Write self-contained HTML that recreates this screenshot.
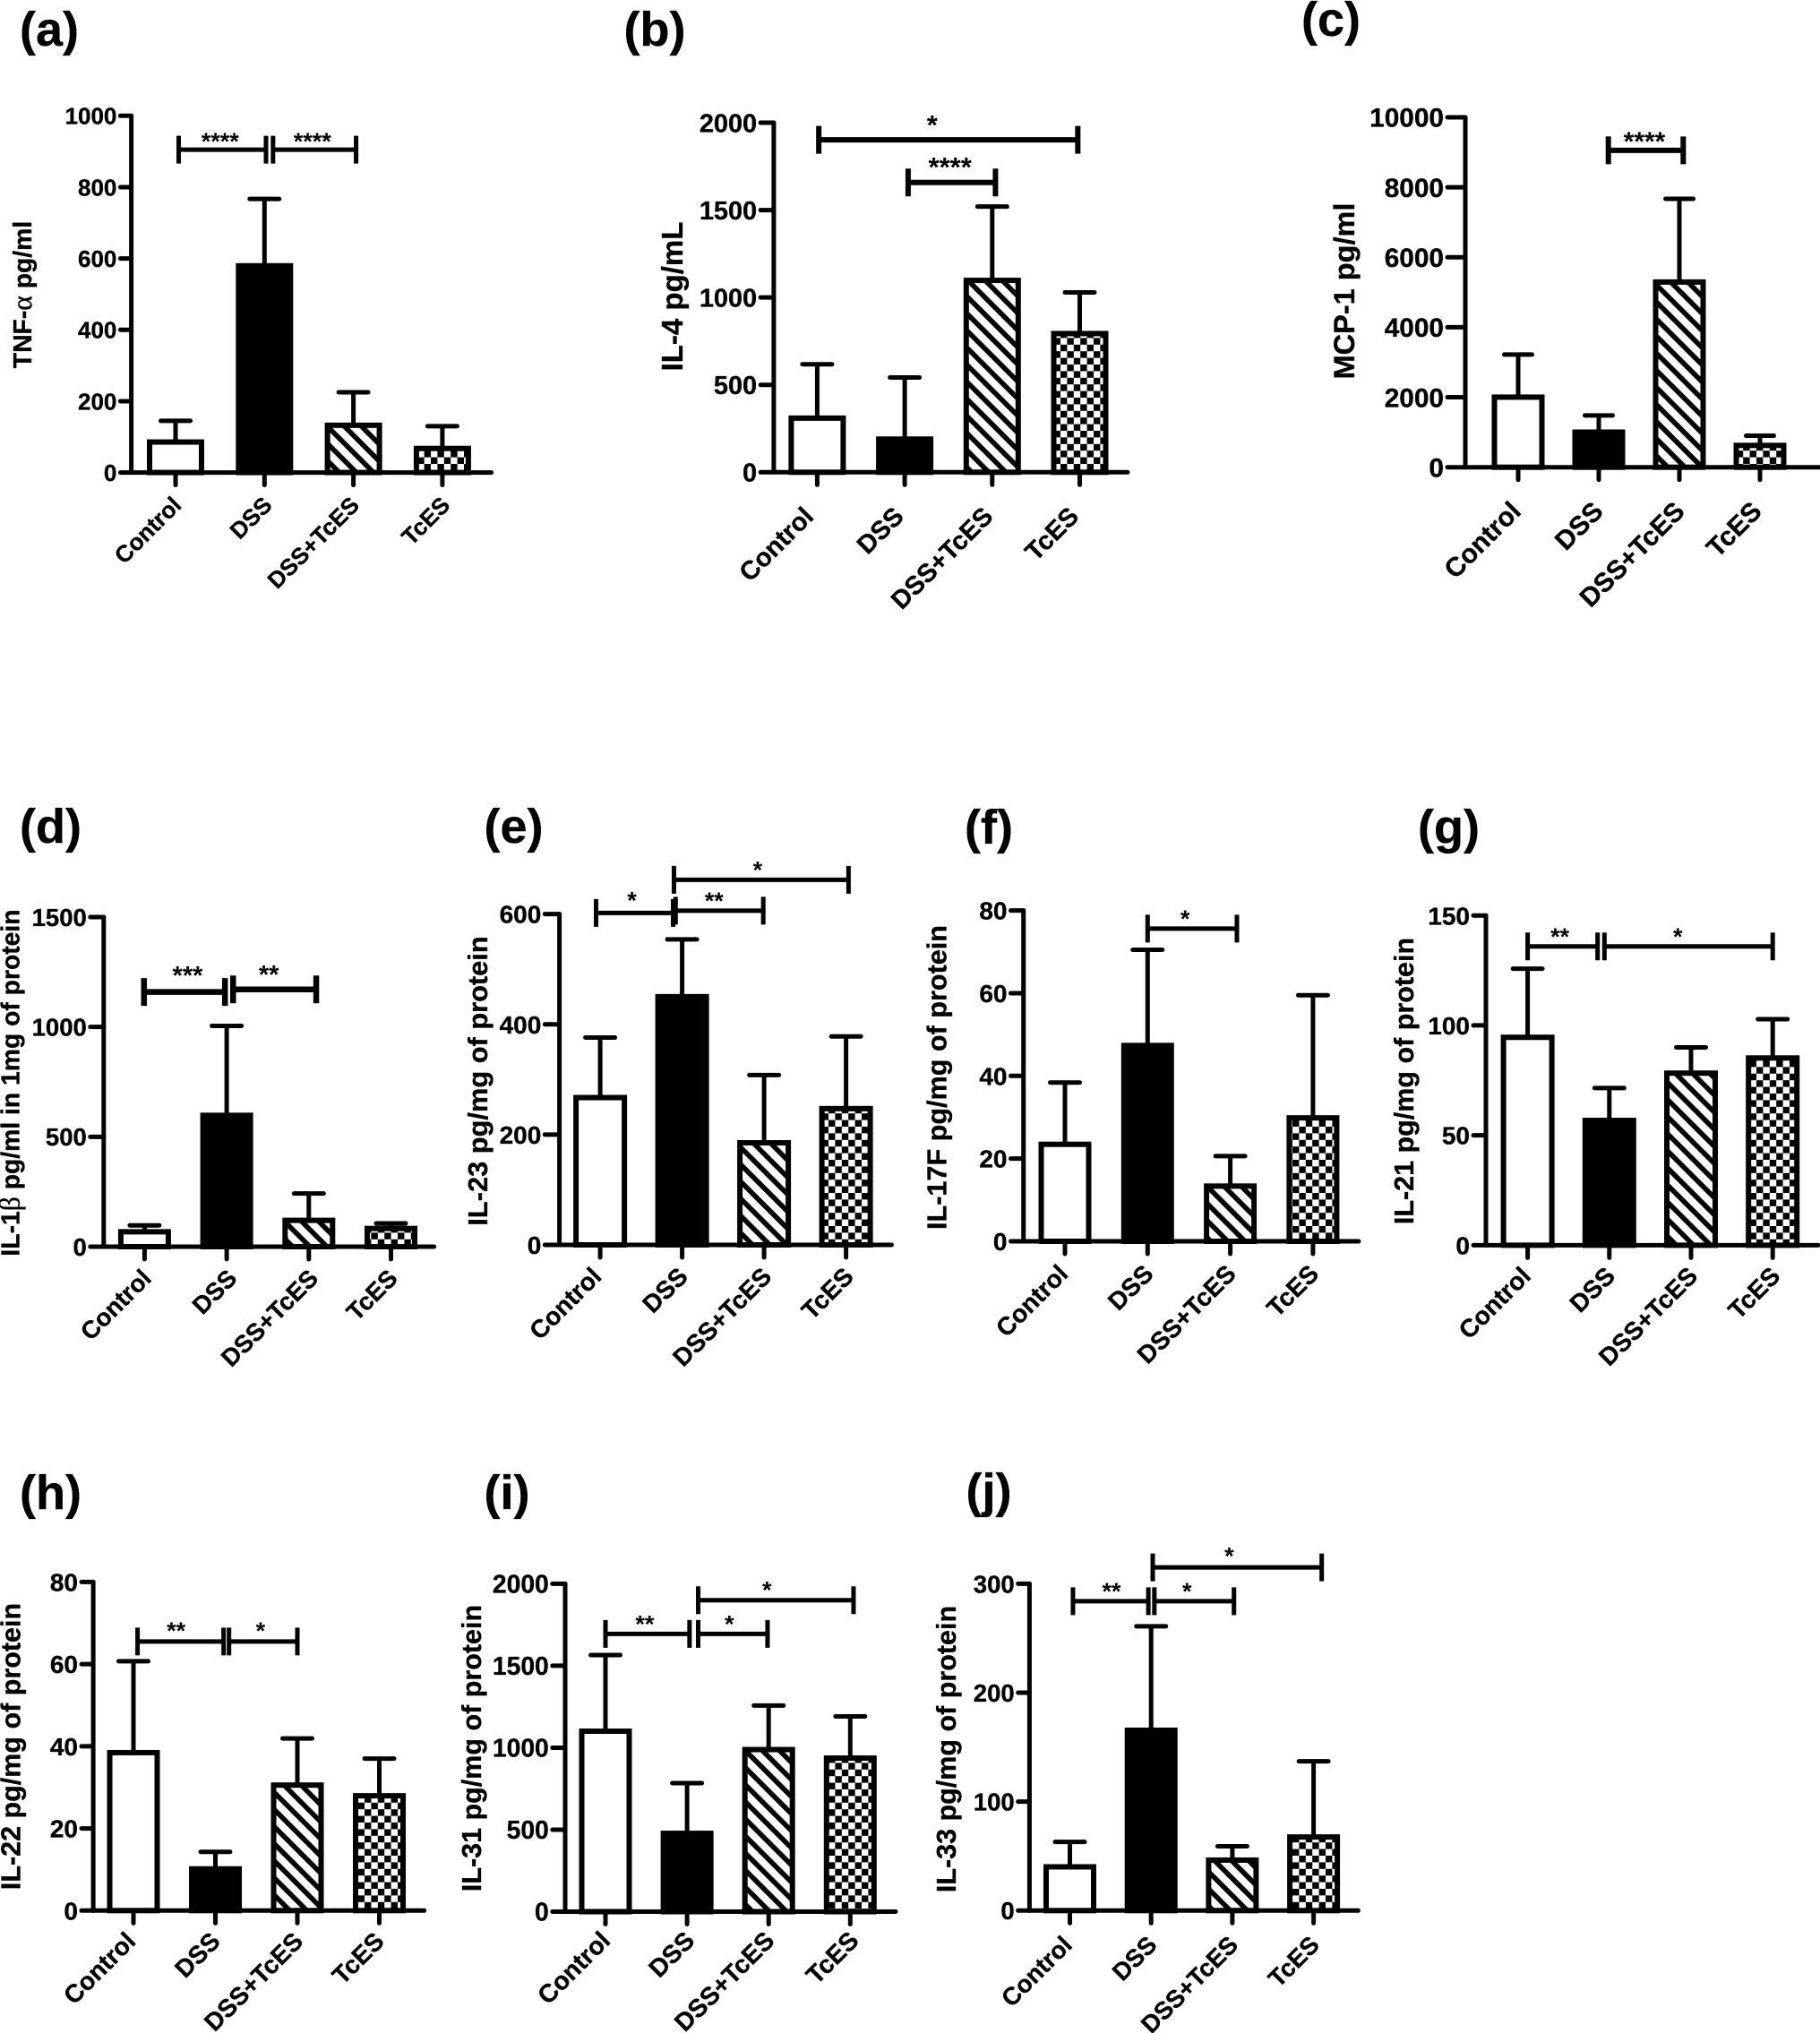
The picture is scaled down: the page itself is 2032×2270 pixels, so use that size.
<!DOCTYPE html>
<html>
<head>
<meta charset="utf-8">
<style>
html,body{margin:0;padding:0;background:#fff;}
svg{display:block;}
text{font-family:"Liberation Sans",sans-serif;font-weight:bold;fill:#000;stroke:#000;stroke-width:0.35px;}
</style>
</head>
<body>
<svg id="figure" width="2032" height="2270" viewBox="0 0 2032 2270" xmlns="http://www.w3.org/2000/svg">
<defs>
<pattern id="stripes" patternUnits="userSpaceOnUse" width="13.5" height="13.5" patternTransform="rotate(-45)">
<rect width="13.5" height="13.5" fill="#fff"/><rect width="5.6" height="13.5" fill="#000"/>
</pattern>
<pattern id="checks" patternUnits="userSpaceOnUse" width="14.8" height="14.8">
<rect width="14.8" height="14.8" fill="#fff"/><rect width="7.4" height="7.4" fill="#000"/><rect x="7.4" y="7.4" width="7.4" height="7.4" fill="#000"/>
</pattern>
</defs>
</svg>
<script>
const categories = ["Control", "DSS", "DSS+TcES", "TcES"];

const tnfTicks = [0, 200, 400, 600, 800, 1000];
const tnfMeans = [93, 587, 140, 75];
const tnfUppers = [145, 767, 225, 130];
const tnfBrackets = [[0.035, 1.017, 905, "****"], [1.096, 2.03, 905, "****"]];

const il4Ticks = [0, 500, 1000, 1500, 2000];
const il4Means = [325, 205, 1113, 809];
const il4Uppers = [618, 542, 1520, 1029];
const il4Brackets = [[0.018, 2.978, 1902, "*"], [1.039, 2.037, 1658, "****"]];

const mcpTicks = [0, 2000, 4000, 6000, 8000, 10000];
const mcpMeans = [2080, 1080, 5370, 700];
const mcpUppers = [3220, 1480, 7670, 900];
const mcpBrackets = [[1.119, 2.048, 9055, "****"]];

const il1Ticks = [0, 500, 1000, 1500];
const il1Means = [80, 610, 132, 95];
const il1Uppers = [97, 1005, 242, 106];
const il1Brackets = [[-0.007, 0.979, 1159, "***"], [1.078, 2.09, 1171, "**"]];

const il23Ticks = [0, 200, 400, 600];
const il23Means = [272, 455, 190, 252];
const il23Uppers = [376, 554, 308, 378];
const il23Brackets = [[0.9, 3.03, 662, "*"], [-0.05, 0.89, 602, "*"], [0.92, 1.99, 606, "**"]];

const il17Ticks = [0, 20, 40, 60, 80];
const il17Means = [24.1, 48, 14, 30.5];
const il17Uppers = [38.4, 70.5, 20.6, 59.5];
const il17Brackets = [[1.0, 2.08, 75.6, "*"]];

const il21Ticks = [0, 50, 100, 150];
const il21Means = [95.8, 58, 79.5, 86.4];
const il21Uppers = [125.8, 71.5, 90, 102.8];
const il21Brackets = [[0, 0.856, 135.9, "**"], [0.94, 3.0, 135.9, "*"]];

const il22Ticks = [0, 20, 40, 60, 80];
const il22Means = [39.1, 10.8, 31.2, 28.6];
const il22Uppers = [60.7, 14.3, 41.9, 37];
const il22Brackets = [[0.05, 1.1, 65.5, "**"], [1.166, 2.0, 65.5, "*"]];

const il31Ticks = [0, 500, 1000, 1500, 2000];
const il31Means = [1117, 494, 1005, 953];
const il31Uppers = [1565, 784, 1257, 1191];
const il31Brackets = [[1.136, 3.04, 1900, "*"], [0, 1.03, 1694, "**"], [1.136, 1.986, 1694, "*"]];

const il33Ticks = [0, 100, 200, 300];
const il33Means = [42.6, 168, 48.8, 70];
const il33Uppers = [63, 261, 59, 137];
const il33Brackets = [[1.02, 3.1, 315, "*"], [0.038, 0.966, 284, "**"], [1.04, 2.02, 284, "*"]];

const svg = document.getElementById("figure");
const NS = "http://www.w3.org/2000/svg";
const barFills = ["#fff", "#000", "url(#stripes)", "url(#checks)"];

function mk(tag, parent, attrs) {
  const el = document.createElementNS(NS, tag);
  for (const k in attrs) el.setAttribute(k, attrs[k]);
  parent.appendChild(el);
  return el;
}

function drawPanel(id, letter, labelPos, title, greek, ticks, means, uppers, brackets, L) {
  const g = mk("g", svg, {});
  
  

  const maxV = ticks[ticks.length - 1];
  const yOf = v => L.base - (L.base - L.top) * v / maxV;
  const xOf = c => L.cat0 + L.catStep * c;
  const barSw = 6, sw = 5, ax = 5, capW = L.capW || 33, brSw = L.brSw || 5;

  const tag = mk("text", g, {x: labelPos[0], y: labelPos[1], "font-size": 54});
  
  
  tag.textContent = "(" + letter + ")";

  means.forEach((m, i) => {
    const cx = xOf(i), top = yOf(m) + barSw / 2, up = yOf(uppers[i]);
    const stem = mk("line", g, {x1: cx, x2: cx, y1: top, y2: up, stroke: "#000", "stroke-width": sw});
    
    
    const cap = mk("line", g, {x1: cx - capW / 2, x2: cx + capW / 2, y1: up, y2: up, stroke: "#000", "stroke-width": sw, "stroke-linecap": "round"});
    
    
    const w = L.barW - barSw;
    const bar = mk("rect", g, {x: cx - w / 2, y: top, width: w, height: L.base - top, fill: barFills[i], stroke: "#000", "stroke-width": barSw});
    
    
  });

  const yAxis = mk("line", g, {x1: L.axisX, x2: L.axisX, y1: L.top, y2: L.base, stroke: "#000", "stroke-width": ax, "stroke-linecap": "round"});
  
  
  const xAxis = mk("line", g, {x1: L.axisX, x2: L.xEnd, y1: L.base, y2: L.base, stroke: "#000", "stroke-width": ax, "stroke-linecap": "round"});
  
  

  ticks.forEach(t => {
    const y = yOf(t);
    const tk = mk("line", g, {x1: L.leftX, x2: L.axisX, y1: y, y2: y, stroke: "#000", "stroke-width": ax, "stroke-linecap": "round"});
    
    
    const lb = mk("text", g, {x: L.leftX - 4, y: y + L.tickFont * 0.36, "font-size": L.tickFont, "text-anchor": "end"});
    
    
    lb.textContent = String(t);
  });

  categories.forEach((c, i) => {
    const cx = xOf(i);
    const tk = mk("line", g, {x1: cx, x2: cx, y1: L.base, y2: L.base + 14, stroke: "#000", "stroke-width": ax, "stroke-linecap": "round"});
    
    
    const px = cx + L.labDx + L.labShifts[i], py = L.base + L.labDy;
    const lb = mk("text", g, {transform: "translate(" + px + "," + py + ") rotate(-45)", "font-size": L.tickFont, "text-anchor": "end"});
    
    
    lb.textContent = c;
  });

  const tt = mk("text", g, {transform: "translate(" + L.titleX + "," + L.titleY + ") rotate(-90)", "font-size": L.titleFont, "text-anchor": "middle"});
  
  
  if (greek) {
    const a = document.createElementNS(NS, "tspan");
    a.textContent = title[0];
    tt.appendChild(a);
    const b = document.createElementNS(NS, "tspan");
    b.setAttribute("style", "font-family:'Liberation Serif',serif;font-weight:normal;font-size:1.12em");
    b.textContent = greek;
    tt.appendChild(b);
    const d = document.createElementNS(NS, "tspan");
    d.textContent = title[1];
    tt.appendChild(d);
  } else {
    tt.textContent = title;
  }

  brackets.forEach((b, i) => {
    const x1 = xOf(b[0]), x2 = xOf(b[1]), y = yOf(b[2]);
    const br = mk("path", g, {d: "M" + x1 + " " + (y - 15.5) + "V" + (y + 15.5) + "M" + x1 + " " + y + "H" + x2 + "M" + x2 + " " + (y - 15.5) + "V" + (y + 15.5), fill: "none", stroke: "#000", "stroke-width": brSw});
    
    
    const st = mk("text", g, {x: (x1 + x2) / 2 + L.starShifts[i], y: y - L.starGaps[i] + L.starFont * 0.6, "font-size": L.starFont, "text-anchor": "middle", style: "stroke:none"});
    
    
    st.textContent = b[3];
  });
}

drawPanel("a", "a", [22, 51], ["TNF-", " pg/ml"], "\u03B1", tnfTicks, tnfMeans, tnfUppers, tnfBrackets,
  {axisX: 146.6, top: 129.3, base: 527.6, leftX: 134.4, xEnd: 548.6, cat0: 196, catStep: 99.3, barW: 64, capW: 33, tickFont: 26, titleFont: 28.3, titleX: 35, titleY: 329, labDx: 8, labDy: 38, labShifts: [0, 2, 0, 2], starFont: 27, starGaps: [16.5, 16.5], starShifts: [-2.5, -2.5]});

drawPanel("b", "b", [696.5, 51], "IL-4 pg/mL", "", il4Ticks, il4Means, il4Uppers, il4Brackets,
  {axisX: 863.9, top: 137, base: 527.3, leftX: 849.1, xEnd: 1258.9, cat0: 912.4, catStep: 97.7, barW: 64, capW: 33, brSw: 6, tickFont: 28.9, titleFont: 33, titleX: 762, titleY: 331, labDx: -3.5, labDy: 51, labShifts: [1, 4, 6, 4], starFont: 31, starGaps: [24.5, 25.5], starShifts: [-18, -2]});

drawPanel("c", "c", [1453, 40], "MCP-1 pg/ml", "", mcpTicks, mcpMeans, mcpUppers, mcpBrackets,
  {axisX: 1636, top: 131, base: 521.7, leftX: 1616, xEnd: 2040, cat0: 1695, catStep: 90, barW: 59, capW: 31, brSw: 6, tickFont: 29.8, titleFont: 32.5, titleX: 1512, titleY: 325, labDx: 3.6, labDy: 51, labShifts: [1, 3, 4, 0], starFont: 30, starGaps: [18], starShifts: [-1.5]});

drawPanel("d", "d", [22, 941], "IL-1\u03B2 pg/ml in 1mg of protein".split("\u03B2"), "\u03B2", il1Ticks, il1Means, il1Uppers, il1Brackets,
  {axisX: 115.8, top: 1024, base: 1392, leftX: 100.8, xEnd: 484.7, cat0: 161.4, catStep: 91.7, barW: 59, capW: 33, brSw: 6.5, tickFont: 27.5, titleFont: 28.3, titleX: 21.5, titleY: 1209, labDx: 9, labDy: 37, labShifts: [0, 4, 3, 0], starFont: 29, starGaps: [26, 24], starShifts: [3.5, -6.5]});

drawPanel("e", "e", [540.5, 941], "IL-23 pg/mg of protein", "", il23Ticks, il23Means, il23Uppers, il23Brackets,
  {axisX: 624.6, top: 1020.6, base: 1390, leftX: 608.3, xEnd: 995.4, cat0: 670.1, catStep: 91.5, barW: 60, capW: 33, tickFont: 28, titleFont: 30.8, titleX: 544, titleY: 1207, labDx: 2, labDy: 37, labShifts: [1, 6, 8, 8], starFont: 27, starGaps: [18, 21, 18], starShifts: [-4, -3, -6]});

drawPanel("f", "f", [1077, 942], "IL-17F pg/mg of protein", "", il17Ticks, il17Means, il17Uppers, il17Brackets,
  {axisX: 1142.7, top: 1016.6, base: 1386, leftX: 1128.5, xEnd: 1517, cat0: 1189, catStep: 92.3, barW: 59, capW: 33, tickFont: 28, titleFont: 30.6, titleX: 1056.7, titleY: 1203, labDx: 4, labDy: 38, labShifts: [1, 4, 4, 4], starFont: 27, starGaps: [18], starShifts: [-8]});

drawPanel("g", "g", [1583, 942], "IL-21 pg/mg of protein", "", il21Ticks, il21Means, il21Uppers, il21Brackets,
  {axisX: 1659, top: 1022.2, base: 1390.4, leftX: 1645, xEnd: 2030, cat0: 1705.6, catStep: 91.2, barW: 60, capW: 33, tickFont: 28, titleFont: 30.5, titleX: 1578, titleY: 1207, labDx: 2, labDy: 36, labShifts: [3, 6, 7, 8], starFont: 27, starGaps: [18, 18], starShifts: [-3, -12]});

drawPanel("h", "h", [22, 1685], "IL-22 pg/mg of protein", "", il22Ticks, il22Means, il22Uppers, il22Brackets,
  {axisX: 104.1, top: 1766.4, base: 2133.3, leftX: 91, xEnd: 473.6, cat0: 149, catStep: 91.5, barW: 59, capW: 33, tickFont: 28, titleFont: 30.5, titleX: 22.5, titleY: 1950, labDx: 4, labDy: 36, labShifts: [0, 3, 4, 3], starFont: 27, starGaps: [19, 19], starShifts: [-5, -3]});

drawPanel("i", "i", [540.5, 1685], "IL-31 pg/mg of protein", "", il31Ticks, il31Means, il31Uppers, il31Brackets,
  {axisX: 631, top: 1768.4, base: 2134.5, leftX: 616.8, xEnd: 1000, cat0: 676, catStep: 91.1, barW: 59, capW: 33, tickFont: 28.3, titleFont: 30.5, titleX: 537, titleY: 1952, labDx: 4, labDy: 34, labShifts: [3, 6, 4, 7], starFont: 27, starGaps: [18.5, 18, 18], starShifts: [-10, -3, -4]});

drawPanel("j", "j", [1078.5, 1683], "IL-33 pg/mg of protein", "", il33Ticks, il33Means, il33Uppers, il33Brackets,
  {axisX: 1149.4, top: 1768.4, base: 2133.3, leftX: 1136.7, xEnd: 1516.4, cat0: 1194.5, catStep: 90.7, barW: 59, capW: 33, tickFont: 27.5, titleFont: 30.5, titleX: 1067, titleY: 1953, labDx: 4, labDy: 40, labShifts: [0, 4, 4, 4], starFont: 27, starGaps: [20, 18, 18], starShifts: [-9, 1, -8]});
</script>
</body>
</html>
